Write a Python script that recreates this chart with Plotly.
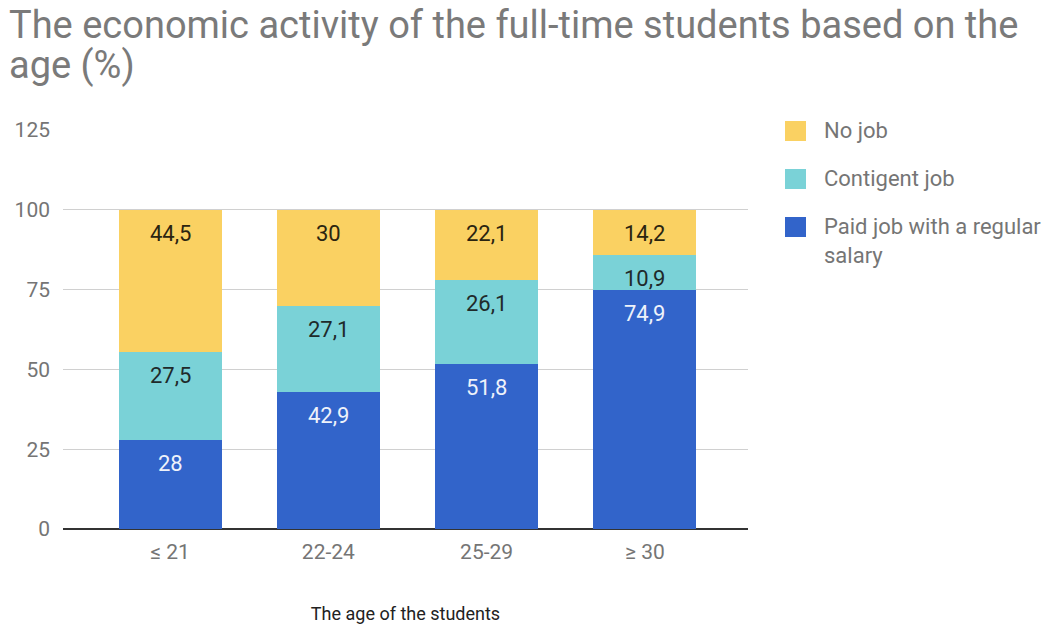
import plotly.graph_objects as go

# Age groups and the share of each activity (%), stacked bottom to top
age_groups = ["≤ 21", "22-24", "25-29", "≥ 30"]
paid_job = [28, 42.9, 51.8, 74.9]
contingent_job = [27.5, 27.1, 26.1, 10.9]
no_job = [44.5, 30, 22.1, 14.2]

series_names = ["Paid job with a regular salary", "Contigent job", "No job"]
series_values = [paid_job, contingent_job, no_job]
series_colors = ["#3264CA", "#7AD2D7", "#FAD162"]
label_colors = ["#EEF2FA", "#1F2A2A", "#2A2410"]

y_ticks = [0, 25, 50, 75, 100, 125]

title_lines = ["The economic activity of the full-time students based on the", "age (%)"]

FONT = "Roboto"
GREY = "#757575"
W, H = 1060, 628
L, R, T, B = 63, 312, 130, 99
PW, PH = W - L - R, H - T - B


def fmt(v):
    return f"{v:g}".replace(".", ",")


def px_x(x):
    return (x - L) / PW


def px_y(y):
    return (H - B - y) / PH


fig = go.Figure()
for name, vals, color in zip(series_names, series_values, series_colors):
    fig.add_trace(go.Bar(
        x=list(range(len(age_groups))), y=vals, name=name,
        marker=dict(color=color, line=dict(width=0)),
        width=0.65, showlegend=False, hoverinfo="skip",
    ))

annotations = []

# Two-line title, one annotation per line (baselines at 39 and 79 px)
for k, line in enumerate(title_lines):
    annotations.append(dict(
        x=px_x(7), y=px_y(39 + 40 * k), xref="paper", yref="paper",
        text=line, showarrow=False, xanchor="left", yanchor="bottom",
        yshift=-10, font=dict(family=FONT, size=38, color="#7A7A7A"),
    ))

# Value labels near the top of each stacked segment
base = [0.0] * len(age_groups)
for vals, lc in zip(series_values, label_colors):
    for i, v in enumerate(vals):
        top = base[i] + v
        annotations.append(dict(
            x=i, y=top, xref="x", yref="y", text=fmt(v), showarrow=False,
            yanchor="top", yshift=-9,
            font=dict(family=FONT, size=22, color=lc),
        ))
        base[i] = top

# Legend drawn as swatches + labels at the right of the plot
legend_entries = list(zip(series_names, series_colors))[::-1]
legend_text = {"Paid job with a regular salary": "Paid job with a regular<br>salary"}
shapes = []
for k, (name, color) in enumerate(legend_entries):
    y_px = 131 + 48 * k
    shapes.append(dict(
        type="rect", xref="paper", yref="paper",
        x0=px_x(785), x1=px_x(806),
        y0=px_y(y_px - 10), y1=px_y(y_px + 10),
        fillcolor=color, line=dict(width=0),
    ))
    annotations.append(dict(
        x=px_x(822), y=px_y(y_px - 15),
        xref="paper", yref="paper", xanchor="left", yanchor="top",
        text=legend_text.get(name, name), showarrow=False, align="left",
        font=dict(family=FONT, size=22, color=GREY),
    ))

fig.update_layout(
    width=W, height=H,
    margin=dict(l=L, r=R, t=T, b=B),
    paper_bgcolor="white", plot_bgcolor="white",
    barmode="stack",
    xaxis=dict(
        tickmode="array", tickvals=list(range(len(age_groups))), ticktext=age_groups,
        range=[-0.677, 3.652], showgrid=False, zeroline=False, showline=False,
        ticks="", ticklabelstandoff=8, automargin=False,
        tickfont=dict(family=FONT, size=21, color=GREY),
        title=dict(text="The age of the students", standoff=44,
                   font=dict(family=FONT, size=18, color="#222222")),
    ),
    yaxis=dict(
        range=[0, 125], tickvals=y_ticks, showgrid=True, gridcolor="#D0D0D0",
        gridwidth=1, zeroline=True, zerolinecolor="#333333", zerolinewidth=1.5,
        ticks="", ticklabelstandoff=12, automargin=False,
        tickfont=dict(family=FONT, size=21, color=GREY),
    ),
    annotations=annotations,
    shapes=shapes,
)

fig.write_html("out.html")
